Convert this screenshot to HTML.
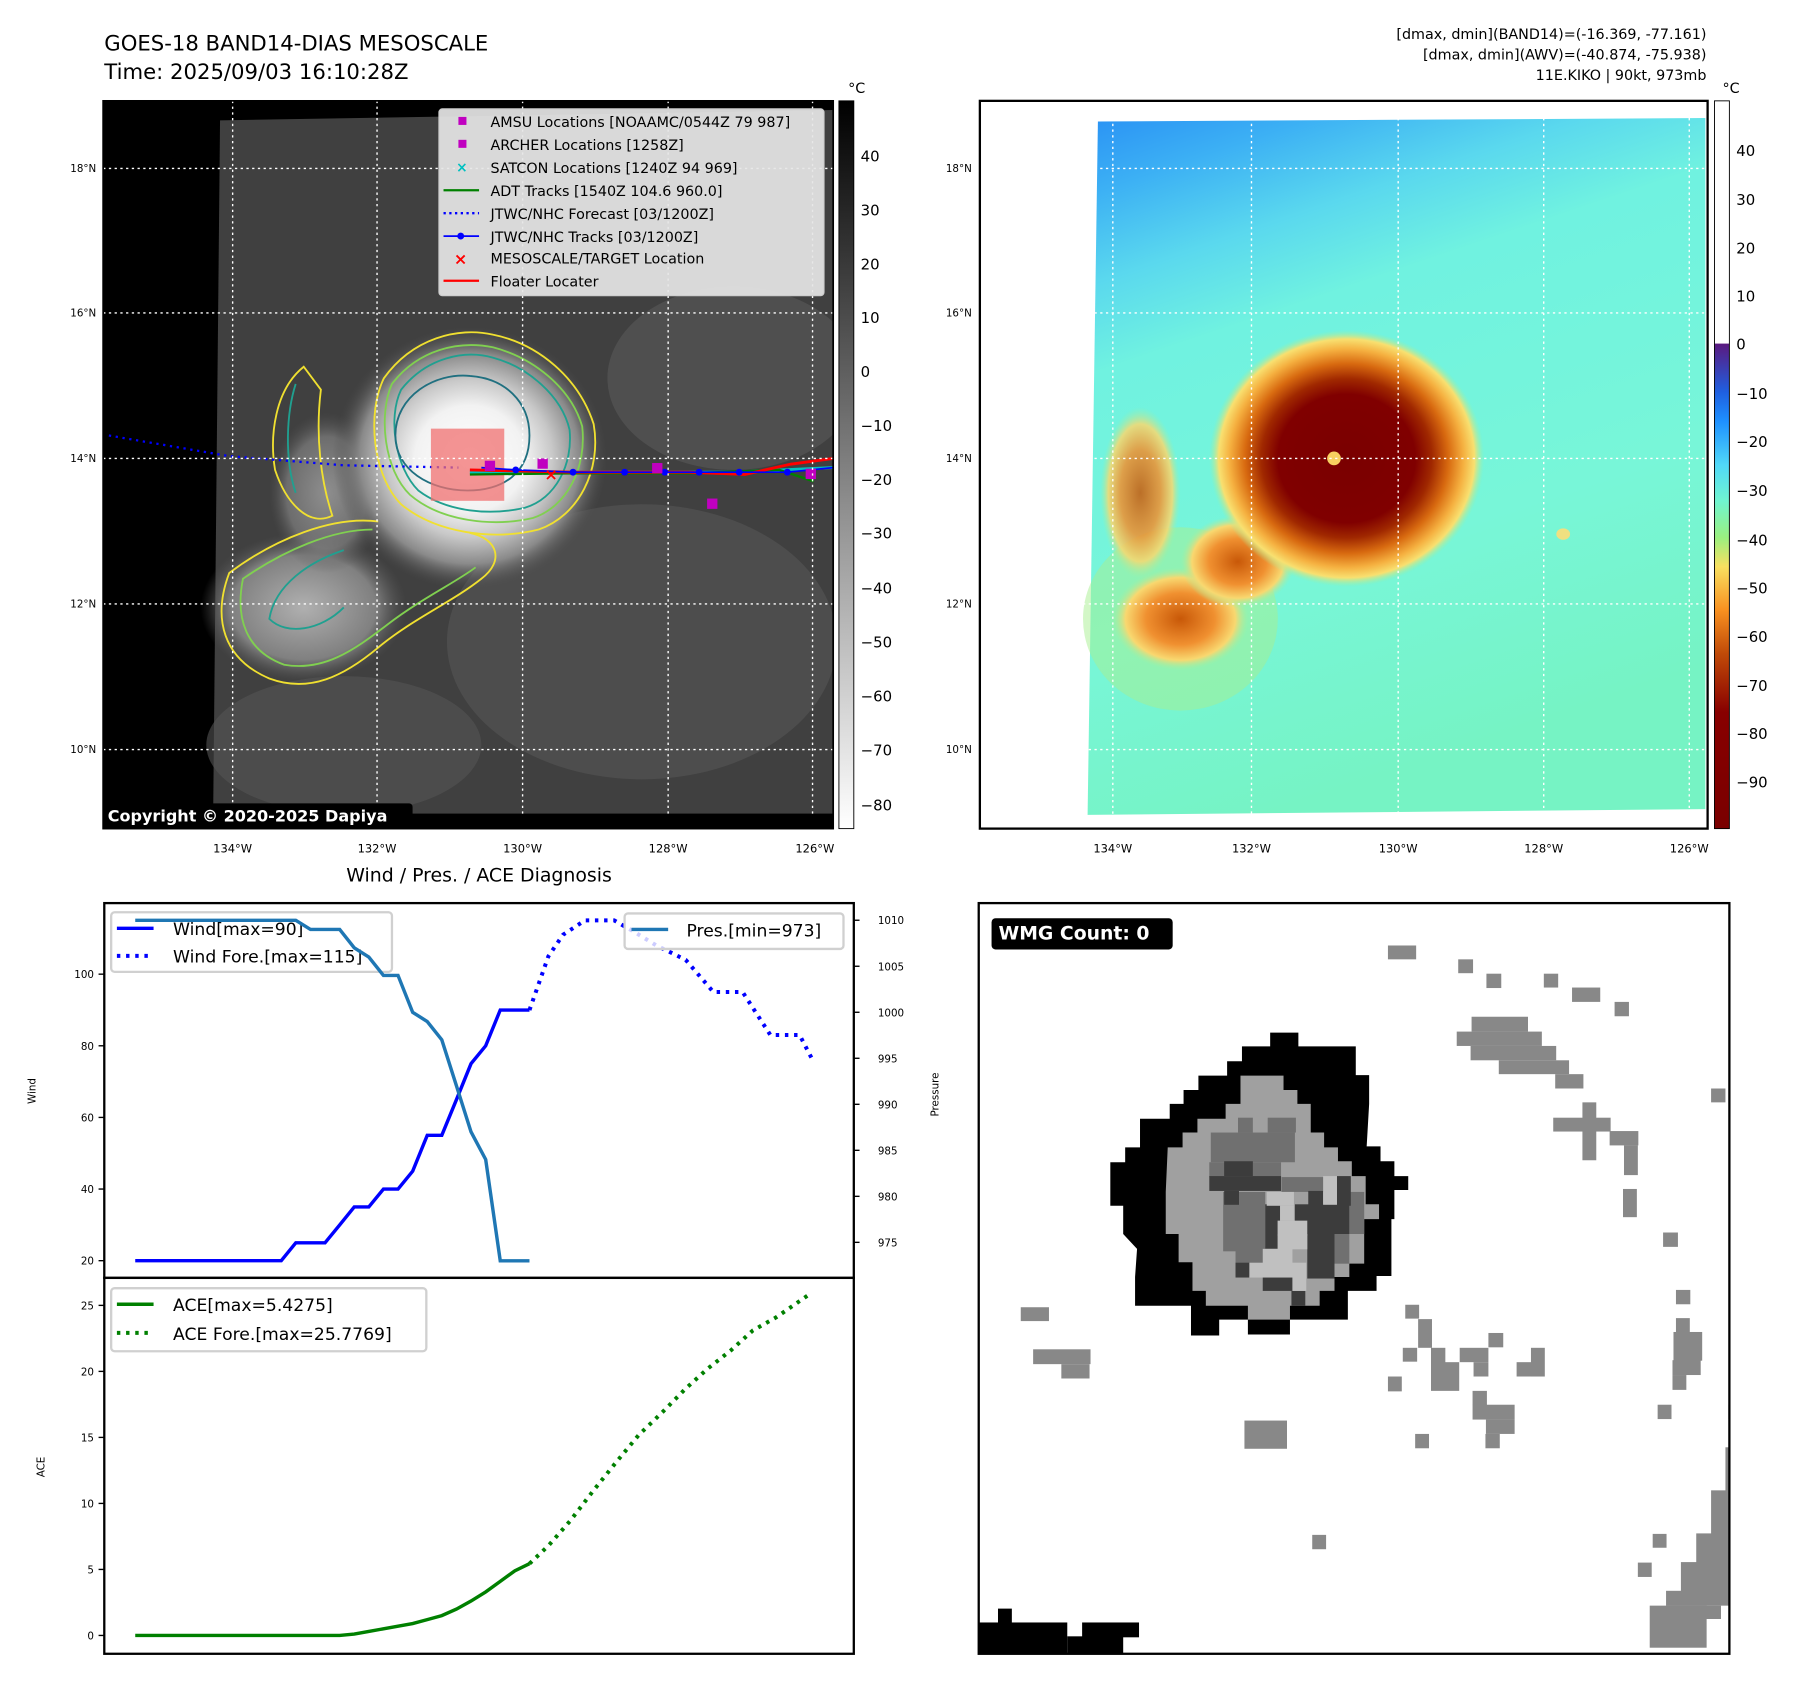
<!DOCTYPE html>
<html><head><meta charset="utf-8"><style>
html,body{margin:0;padding:0;background:#fff;}
svg{display:block;font-family:"DejaVu Sans","Liberation Sans",sans-serif;}
</style></head><body>
<svg id="root" width="1797" height="1690" viewBox="0 0 1568 1474.6" preserveAspectRatio="none">
<defs>
<radialGradient id="stormGray" cx="0.5" cy="0.5" r="0.5">
<stop offset="0" stop-color="#fff"/><stop offset="0.4" stop-color="#f2f2f2"/><stop offset="0.6" stop-color="#c8c8c8"/><stop offset="0.8" stop-color="#8a8a8a"/><stop offset="1" stop-color="#4a4a4a" stop-opacity="0"/>
</radialGradient>
<radialGradient id="bandGray" cx="0.5" cy="0.5" r="0.5">
<stop offset="0" stop-color="#b0b0b0"/><stop offset="0.7" stop-color="#808080"/><stop offset="1" stop-color="#555" stop-opacity="0"/>
</radialGradient>
<linearGradient id="cbGray" x1="0" y1="0" x2="0" y2="1"><stop offset="0" stop-color="#000"/><stop offset="1" stop-color="#fff"/></linearGradient>
<linearGradient id="cbJet" x1="0" y1="0" x2="0" y2="1">
<stop offset="0" stop-color="#fff"/><stop offset="0.333" stop-color="#fff"/><stop offset="0.334" stop-color="#5a1a80"/><stop offset="0.4" stop-color="#1f5fe0"/><stop offset="0.44" stop-color="#1e90ff"/><stop offset="0.5" stop-color="#50d8f8"/><stop offset="0.55" stop-color="#70f5d0"/><stop offset="0.6" stop-color="#9af080"/><stop offset="0.64" stop-color="#f8e060"/><stop offset="0.7" stop-color="#f89020"/><stop offset="0.76" stop-color="#c04a08"/><stop offset="0.84" stop-color="#880000"/><stop offset="1" stop-color="#7a0000"/>
</linearGradient>
<linearGradient id="skyGrad" x1="0" y1="0" x2="0.3" y2="1">
<stop offset="0" stop-color="#2a92f4"/><stop offset="0.1" stop-color="#3cb0f4"/><stop offset="0.22" stop-color="#5ad8ee"/><stop offset="0.34" stop-color="#70f2e0"/><stop offset="0.7" stop-color="#78f6d8"/><stop offset="1" stop-color="#76f3c4"/>
</linearGradient>
<radialGradient id="stormColor" cx="0.5" cy="0.5" r="0.5">
<stop offset="0" stop-color="#7a0000"/><stop offset="0.5" stop-color="#800000"/><stop offset="0.62" stop-color="#a02800"/><stop offset="0.74" stop-color="#d86a10"/><stop offset="0.85" stop-color="#f5b040"/><stop offset="0.93" stop-color="#f8e070"/><stop offset="1" stop-color="#9cf0a0" stop-opacity="0"/>
</radialGradient>
<radialGradient id="bandColor" cx="0.5" cy="0.5" r="0.5">
<stop offset="0" stop-color="#c85808"/><stop offset="0.5" stop-color="#f09030"/><stop offset="0.8" stop-color="#f8d870"/><stop offset="1" stop-color="#a0f0a0" stop-opacity="0"/>
</radialGradient>
<clipPath id="leftClip"><rect x="90" y="88" width="637" height="635"/></clipPath>
<clipPath id="rightClip"><rect x="855" y="88" width="635" height="635"/></clipPath>
</defs>

<text x="91" y="44" font-size="18.5">GOES-18 BAND14-DIAS MESOSCALE</text>
<text x="91" y="69" font-size="18.5">Time: 2025/09/03 16:10:28Z</text>
<g font-size="12.5" text-anchor="end">
<text x="1489" y="34">[dmax, dmin](BAND14)=(-16.369, -77.161)</text>
<text x="1489" y="52">[dmax, dmin](AWV)=(-40.874, -75.938)</text>
<text x="1489" y="70">11E.KIKO | 90kt, 973mb</text>
</g>

<!-- LEFT MAP -->
<g clip-path="url(#leftClip)">
<rect x="90" y="88" width="637" height="635" fill="#000"/>
<polygon points="192,105 727,96 727,710 186,710" fill="#404040"/>
<ellipse cx="640" cy="330" rx="110" ry="80" fill="#5a5a5a" opacity="0.6"/>
<ellipse cx="560" cy="560" rx="170" ry="120" fill="#575757" opacity="0.6"/>
<ellipse cx="300" cy="650" rx="120" ry="60" fill="#555" opacity="0.6"/>
<ellipse cx="265" cy="530" rx="90" ry="65" fill="url(#bandGray)"/>
<ellipse cx="285" cy="430" rx="50" ry="70" fill="url(#bandGray)" opacity="0.7"/>
<ellipse cx="410" cy="400" rx="120" ry="115" fill="url(#stormGray)"/>
<g fill="none" stroke-width="1.6">
<path d="M335,330 C360,295 400,285 430,292 C470,300 505,330 518,370 C525,410 505,450 470,462 C430,472 380,465 350,440 C325,415 320,360 335,330 Z" stroke="#f0e030"/>
<path d="M342,335 C365,305 400,297 430,303 C465,312 498,338 508,372 C512,408 495,442 465,452 C430,460 385,455 358,432 C335,410 330,362 342,335 Z" stroke="#80d050"/>
<path d="M350,340 C372,312 405,305 430,312 C460,320 490,345 497,375 C500,405 485,435 458,443 C428,450 390,447 365,428 C345,408 338,365 350,340 Z" stroke="#20a090"/>
<path d="M345,380 C345,345 380,325 410,328 C440,330 462,350 462,380 C462,412 440,428 408,428 C375,428 345,410 345,380 Z" stroke="#207080"/>
<path d="M330,455 C290,450 240,470 200,500 C185,540 195,575 235,592 C270,605 300,590 330,565 C360,540 395,525 420,505 C440,490 435,470 410,465" stroke="#f0e030"/>
<path d="M325,462 C290,462 248,480 212,505 C205,540 215,568 248,580 C282,586 308,568 338,545 C368,522 398,508 415,495" stroke="#80d050"/>
<path d="M300,480 C270,490 240,510 235,540 C250,555 280,550 300,530" stroke="#20a090"/>
<path d="M265,320 C240,340 235,380 240,410 C250,440 270,460 290,450 C280,420 275,380 280,340 Z" stroke="#f0e030"/>
<path d="M258,335 C250,360 248,400 258,430" stroke="#20a090"/>
</g>
<polyline points="95,380 200,398 300,406 400,408" fill="none" stroke="#0000ff" stroke-width="2" stroke-dasharray="2 4"/>
<rect x="376" y="374" width="64" height="63" fill="#f07070" opacity="0.75"/>
<polyline points="410,412 480,412 560,412 640,412 727,408" fill="none" stroke="#00c0c0" stroke-width="2.5"/>
<polyline points="410,414 500,413 600,413 680,410 710,420" fill="none" stroke="#008000" stroke-width="2"/>
<polyline points="410,410 500,412 600,412 650,414 690,405 727,400" fill="none" stroke="#ff0000" stroke-width="2.5"/>
<polyline points="420,408 450,410 500,412 545,412 580,412 610,412 645,412 687,412 727,408" fill="none" stroke="#0000ff" stroke-width="1.5"/>
<g fill="#0000ff"><circle cx="450" cy="410" r="3"/><circle cx="500" cy="412" r="3"/><circle cx="545" cy="412" r="3"/><circle cx="580" cy="412" r="3"/><circle cx="610" cy="412" r="3"/><circle cx="645" cy="412" r="3"/><circle cx="687" cy="412" r="3"/></g>
<g fill="#c000c0"><rect x="469" y="400" width="9" height="9"/><rect x="569" y="404" width="9" height="9"/><rect x="617" y="435" width="9" height="9"/><rect x="703" y="409" width="9" height="9"/><rect x="423" y="402" width="9" height="9"/></g>
<text x="475" y="419" fill="#ff0000" font-size="14" font-weight="bold">×</text>
<g stroke="#fff" stroke-width="1.2" stroke-dasharray="2 3">
<line x1="203" y1="88" x2="203" y2="723"/><line x1="329" y1="88" x2="329" y2="723"/><line x1="456" y1="88" x2="456" y2="723"/><line x1="583" y1="88" x2="583" y2="723"/><line x1="709" y1="88" x2="709" y2="723"/>
<line x1="90" y1="147" x2="727" y2="147"/><line x1="90" y1="273" x2="727" y2="273"/><line x1="90" y1="400" x2="727" y2="400"/><line x1="90" y1="527" x2="727" y2="527"/><line x1="90" y1="654" x2="727" y2="654"/>
</g>
<rect x="90" y="710" width="637" height="13" fill="#000"/>
</g>
<rect x="90" y="701" width="270" height="22" rx="3" fill="#000"/>
<text x="94" y="717" font-size="14" font-weight="bold" fill="#fff">Copyright © 2020-2025 Dapiya</text>
<g>
<rect x="383" y="95" width="336" height="163" rx="3" fill="#e6e6e6" fill-opacity="0.92" stroke="#ccc"/>
<g font-size="12.5">
<rect x="400" y="102" width="7" height="7" fill="#c000c0"/><text x="428" y="111">AMSU Locations [NOAAMC/0544Z 79 987]</text>
<rect x="400" y="122" width="7" height="7" fill="#c000c0"/><text x="428" y="131">ARCHER Locations [1258Z]</text>
<text x="398" y="150" fill="#00c0c0" font-size="12" font-weight="bold">×</text><text x="428" y="151">SATCON Locations [1240Z 94 969]</text>
<line x1="387" y1="166" x2="418" y2="166" stroke="#008000" stroke-width="2"/><text x="428" y="171">ADT Tracks [1540Z 104.6 960.0]</text>
<line x1="387" y1="186" x2="418" y2="186" stroke="#0000ff" stroke-width="2" stroke-dasharray="2 3"/><text x="428" y="191">JTWC/NHC Forecast [03/1200Z]</text>
<line x1="387" y1="206" x2="418" y2="206" stroke="#0000ff" stroke-width="1.5"/><circle cx="402" cy="206" r="3" fill="#0000ff"/><text x="428" y="211">JTWC/NHC Tracks [03/1200Z]</text>
<text x="396" y="231" fill="#ff0000" font-size="14" font-weight="bold">×</text><text x="428" y="230">MESOSCALE/TARGET Location</text>
<line x1="387" y1="245" x2="418" y2="245" stroke="#ff0000" stroke-width="2"/><text x="428" y="250">Floater Locater</text>
</g></g>
<rect x="90" y="88" width="637" height="635" fill="none" stroke="#000" stroke-width="1.5"/>
<g font-size="9" text-anchor="end">
<text x="84" y="150">18°N</text><text x="84" y="276">16°N</text><text x="84" y="403">14°N</text><text x="84" y="530">12°N</text><text x="84" y="657">10°N</text></g>
<g font-size="10" text-anchor="middle">
<text x="203" y="744">134°W</text><text x="329" y="744">132°W</text><text x="456" y="744">130°W</text><text x="583" y="744">128°W</text><text x="711" y="744">126°W</text></g>
<rect x="732" y="88" width="13" height="635" fill="url(#cbGray)" stroke="#000" stroke-width="0.8"/>
<text x="740" y="81" font-size="12.5">°C</text>
<g font-size="13">
<text x="751" y="141">40</text><text x="751" y="188">30</text><text x="751" y="235">20</text><text x="751" y="282">10</text><text x="751" y="329">0</text><text x="751" y="376">−10</text><text x="751" y="423">−20</text><text x="751" y="470">−30</text><text x="751" y="518">−40</text><text x="751" y="565">−50</text><text x="751" y="612">−60</text><text x="751" y="659">−70</text><text x="751" y="707">−80</text></g>

<!-- RIGHT MAP -->
<g clip-path="url(#rightClip)">
<rect x="855" y="88" width="635" height="635" fill="#fff"/>
<polygon points="958,106 1488,103 1488,706 949,711" fill="url(#skyGrad)"/>
<ellipse cx="1030" cy="540" rx="85" ry="80" fill="#a8f090" opacity="0.5"/>
<ellipse cx="1030" cy="540" rx="60" ry="45" fill="url(#bandColor)"/>
<ellipse cx="995" cy="430" rx="35" ry="75" fill="url(#bandColor)" opacity="0.85"/>
<ellipse cx="1080" cy="490" rx="50" ry="40" fill="url(#bandColor)"/>
<ellipse cx="1175" cy="400" rx="120" ry="112" fill="url(#stormColor)"/>
<ellipse cx="1164" cy="400" rx="6" ry="6" fill="#f8d060"/>
<ellipse cx="1364" cy="466" rx="6" ry="5" fill="#f0e080"/>
<g stroke="#fff" stroke-width="1.2" stroke-dasharray="2 3">
<line x1="971" y1="88" x2="971" y2="723"/><line x1="1092" y1="88" x2="1092" y2="723"/><line x1="1220" y1="88" x2="1220" y2="723"/><line x1="1347" y1="88" x2="1347" y2="723"/><line x1="1474" y1="88" x2="1474" y2="723"/>
<line x1="855" y1="147" x2="1490" y2="147"/><line x1="855" y1="273" x2="1490" y2="273"/><line x1="855" y1="400" x2="1490" y2="400"/><line x1="855" y1="527" x2="1490" y2="527"/><line x1="855" y1="654" x2="1490" y2="654"/>
</g></g>
<rect x="855" y="88" width="635" height="635" fill="none" stroke="#000" stroke-width="2"/>
<g font-size="9" text-anchor="end">
<text x="848" y="150">18°N</text><text x="848" y="276">16°N</text><text x="848" y="403">14°N</text><text x="848" y="530">12°N</text><text x="848" y="657">10°N</text></g>
<g font-size="10" text-anchor="middle">
<text x="971" y="744">134°W</text><text x="1092" y="744">132°W</text><text x="1220" y="744">130°W</text><text x="1347" y="744">128°W</text><text x="1474" y="744">126°W</text></g>
<rect x="1496" y="88" width="13" height="635" fill="url(#cbJet)" stroke="#000" stroke-width="0.8"/>
<text x="1503" y="81" font-size="12.5">°C</text>
<g font-size="13">
<text x="1515" y="136">40</text><text x="1515" y="179">30</text><text x="1515" y="221">20</text><text x="1515" y="263">10</text><text x="1515" y="305">0</text><text x="1515" y="348">−10</text><text x="1515" y="390">−20</text><text x="1515" y="433">−30</text><text x="1515" y="476">−40</text><text x="1515" y="518">−50</text><text x="1515" y="560">−60</text><text x="1515" y="603">−70</text><text x="1515" y="645">−80</text><text x="1515" y="687">−90</text></g>

<!-- DIAGNOSIS CHART -->
<text x="418" y="769" font-size="16.5" text-anchor="middle">Wind / Pres. / ACE Diagnosis</text>
<g>
<rect x="97" y="796" width="245" height="52" rx="3" fill="#fff" fill-opacity="0.8" stroke="#d0d0d0" stroke-width="2"/>
<line x1="102" y1="810" x2="134" y2="810" stroke="#0000ff" stroke-width="3"/>
<text x="151" y="816" font-size="15">Wind[max=90]</text>
<line x1="102" y1="834" x2="134" y2="834" stroke="#0000ff" stroke-width="3.5" stroke-dasharray="3 5"/>
<text x="151" y="840" font-size="15">Wind Fore.[max=115]</text></g>
<g id="chart"></g>
<rect x="91" y="788" width="654" height="327" fill="none" stroke="#000" stroke-width="2"/>
<rect x="91" y="1115" width="654" height="328" fill="none" stroke="#000" stroke-width="2"/>
<text transform="translate(31,952) rotate(-90)" font-size="9" text-anchor="middle">Wind</text>
<text transform="translate(819,955) rotate(-90)" font-size="9" text-anchor="middle">Pressure</text>
<text transform="translate(39,1280) rotate(-90)" font-size="9" text-anchor="middle">ACE</text>
<g>
<rect x="545" y="797" width="191" height="31" rx="3" fill="#fff" fill-opacity="0.8" stroke="#d0d0d0" stroke-width="2"/>
<line x1="551" y1="811" x2="583" y2="811" stroke="#1f77b4" stroke-width="3"/>
<text x="599" y="817" font-size="15">Pres.[min=973]</text></g>
<g>
<rect x="97" y="1124" width="275" height="55" rx="3" fill="#fff" stroke="#d0d0d0" stroke-width="2"/>
<line x1="102" y1="1138" x2="134" y2="1138" stroke="#008000" stroke-width="3"/>
<text x="151" y="1144" font-size="15">ACE[max=5.4275]</text>
<line x1="102" y1="1163" x2="134" y2="1163" stroke="#008000" stroke-width="3.5" stroke-dasharray="3 5"/>
<text x="151" y="1169" font-size="15">ACE Fore.[max=25.7769]</text></g>

<!-- WMG PANEL -->
<g>
<rect x="854" y="788" width="655" height="655" fill="#fff"/>
<svg x="854" y="788" width="655" height="655" viewBox="854 788 655 655" overflow="hidden">
<g transform="translate(855.7,785.25) scale(0.4318)">
<g fill="#888">
<rect x="823" y="92" width="57" height="28"/><rect x="965" y="120" width="30" height="28"/><rect x="1022" y="149" width="30" height="29"/><rect x="1138" y="149" width="29" height="28"/><rect x="1195" y="177" width="57" height="29"/><rect x="1281" y="206" width="29" height="29"/>
<rect x="992" y="236" width="114" height="30"/><rect x="962" y="266" width="172" height="29"/><rect x="990" y="295" width="173" height="29"/><rect x="1047" y="324" width="142" height="28"/><rect x="1161" y="352" width="57" height="29"/>
<rect x="1476" y="381" width="29" height="28"/>
<rect x="1216" y="409" width="28" height="117"/><rect x="1157" y="440" width="116" height="28"/><rect x="1271" y="467" width="58" height="29"/><rect x="1300" y="496" width="28" height="60"/>
<rect x="1298" y="584" width="28" height="57"/><rect x="1379" y="672" width="30" height="29"/><rect x="1405" y="788" width="29" height="29"/><rect x="1405" y="845" width="28" height="30"/><rect x="1400" y="873" width="58" height="58"/><rect x="1398" y="930" width="57" height="30"/><rect x="1398" y="960" width="28" height="30"/><rect x="1517" y="845" width="10" height="86"/>
<rect x="858" y="818" width="28" height="28"/><rect x="884" y="847" width="28" height="58"/><rect x="853" y="905" width="29" height="28"/><rect x="910" y="905" width="29" height="30"/><rect x="910" y="934" width="57" height="58"/><rect x="968" y="905" width="58" height="29"/><rect x="996" y="934" width="30" height="29"/><rect x="1026" y="875" width="30" height="29"/><rect x="1112" y="905" width="28" height="58"/><rect x="1083" y="934" width="56" height="29"/>
<rect x="823" y="963" width="28" height="30"/><rect x="994" y="992" width="29" height="29"/><rect x="994" y="1020" width="85" height="30"/><rect x="1021" y="1050" width="58" height="29"/><rect x="1020" y="1079" width="29" height="29"/><rect x="878" y="1079" width="28" height="29"/>
<rect x="81" y="823" width="57" height="28"/><rect x="106" y="908" width="116" height="30"/><rect x="163" y="938" width="57" height="29"/>
<rect x="533" y="1052" width="86" height="57"/><rect x="670" y="1283" width="28" height="29"/>
<rect x="1368" y="1020" width="28" height="29"/><rect x="1511" y="1020" width="16" height="29"/>
<rect x="1358" y="1281" width="28" height="28"/><rect x="1328" y="1339" width="28" height="29"/>
<rect x="1505" y="1106" width="22" height="90"/><rect x="1476" y="1193" width="51" height="90"/><rect x="1446" y="1280" width="81" height="60"/><rect x="1415" y="1338" width="112" height="60"/><rect x="1385" y="1396" width="142" height="30"/><rect x="1385" y="1426" width="111" height="27"/><rect x="1352" y="1426" width="115" height="85"/>
</g>
<g fill="#000">
<rect x="-10" y="1460" width="185" height="72"/><rect x="35" y="1432" width="28" height="30"/><rect x="205" y="1460" width="115" height="30"/><rect x="175" y="1488" width="113" height="44"/></g>
<polygon fill="#000" points="585,268 642,268 642,296 758,296 758,354 785,354 785,412 780,498 808,498 808,528 836,528 836,558 864,558 864,586 836,586 836,645 830,645 830,760 800,760 800,790 742,790 742,848 625,848 625,878 540,878 540,848 482,848 482,880 425,880 425,820 312,820 312,762 316,705 288,675 288,618 262,618 262,530 292,530 292,500 322,500 322,442 382,442 382,412 410,412 410,384 440,384 440,355 498,355 498,326 528,326 528,296 585,296"/>
<polygon fill="#a0a0a0" points="525,355 612,355 612,384 640,384 640,412 667,412 667,470 694,470 694,500 722,500 722,528 750,528 750,558 778,558 778,615 805,615 805,645 775,645 775,735 745,735 745,762 715,762 715,790 685,790 685,820 625,820 625,848 540,848 540,820 455,820 455,790 428,790 428,732 400,732 400,675 374,675 374,590 378,500 408,500 408,470 438,470 438,442 495,442 495,412 525,412"/>
<g fill="#707070"><rect x="465" y="470" width="170" height="60"/><rect x="462" y="530" width="145" height="30"/><rect x="490" y="590" width="85" height="120"/><rect x="515" y="700" width="60" height="60"/><rect x="608" y="560" width="85" height="30"/><rect x="745" y="590" width="30" height="85"/><rect x="690" y="675" width="55" height="60"/><rect x="520" y="440" width="30" height="30"/><rect x="580" y="440" width="57" height="30"/></g>
<g fill="#3c3c3c"><rect x="492" y="528" width="58" height="30"/><rect x="462" y="558" width="145" height="30"/><rect x="492" y="588" width="30" height="28"/><rect x="575" y="615" width="30" height="90"/><rect x="635" y="615" width="110" height="60"/><rect x="660" y="675" width="55" height="90"/><rect x="720" y="558" width="28" height="60"/><rect x="570" y="762" width="60" height="28"/><rect x="515" y="733" width="28" height="30"/><rect x="628" y="790" width="28" height="30"/><rect x="662" y="588" width="30" height="28"/></g>
<g fill="#c0c0c0"><rect x="692" y="558" width="28" height="58"/><rect x="578" y="590" width="55" height="28"/><rect x="605" y="618" width="28" height="30"/><rect x="600" y="648" width="60" height="30"/><rect x="600" y="676" width="60" height="30"/><rect x="570" y="705" width="60" height="30"/><rect x="543" y="733" width="115" height="30"/><rect x="630" y="762" width="28" height="28"/></g>
<rect x="22" y="37" width="366" height="63" rx="8" fill="#000"/>
<text x="36" y="80" font-size="38" font-weight="bold" fill="#fff">WMG Count: 0</text>
</g>
</svg>
<rect x="854" y="788" width="655" height="655" fill="none" stroke="#000" stroke-width="2"/>
</g>
</svg>
<script>
var obsIdx = [0,1,2,3,4,5,6,7,8,9,10,11,12,13,14,15,16,17,18,19,20,21,22,23,24,25,26,27];
var windObs = [20,20,20,20,20,20,20,20,20,20,20,25,25,25,30,35,35,40,40,45,55,55,65,75,80,90,90,90];
var presObs = [1010,1010,1010,1010,1010,1010,1010,1010,1010,1010,1010,1010,1009,1009,1009,1007,1006,1004,1004,1000,999,997,992,987,984,973,973,973];
var windForeIdx = [27,28.3,29.3,30.8,32.8,34.1,35.7,37.7,39.6,41.6,43.5,45.5,46.4];
var windFore = [90,105,111,115,115,112,108,104,95,95,83,83,76];
var aceObs = [0,0,0,0,0,0,0,0,0,0,0,0,0,0,0,0.1,0.3,0.5,0.7,0.9,1.2,1.5,2.0,2.6,3.3,4.1,4.9,5.43];
var aceForeIdx = [27,28.3,29.8,31.4,33,34.5,36.1,37.7,39.2,40.8,42.3,43.9,46.1];
var aceFore = [5.43,6.8,8.7,11,13.2,15.2,16.9,18.7,20.2,21.6,23.1,24.1,25.78];
var windTicks = [20,40,60,80,100];
var presTicks = [975,980,985,990,995,1000,1005,1010];
var aceTicks = [0,5,10,15,20,25];

var NS = 'http://www.w3.org/2000/svg';
var chart = document.getElementById('chart');
function xIdx(i){ return 118 + i * 12.74; }
function yWind(w){ return 1100 - (w - 20) * 3.125; }
function yPres(p){ return 1084 - (p - 975) * 8.03; }
function yAce(a){ return 1427 - a * 11.52; }
function mk(tag, attrs){ var e = document.createElementNS(NS, tag); for (var k in attrs) e.setAttribute(k, attrs[k]); chart.appendChild(e); return e; }
function pts(xs, ys, fy){ var s = []; for (var i = 0; i < xs.length; i++) s.push(xIdx(xs[i]).toFixed(1) + ',' + fy(ys[i]).toFixed(1)); return s.join(' '); }

var e;
e = mk('polyline', {points: pts(windForeIdx, windFore, yWind), fill: 'none', stroke: '#0000ff', 'stroke-width': 3.5, 'stroke-dasharray': '3 5'});


e = mk('polyline', {points: pts(obsIdx, windObs, yWind), fill: 'none', stroke: '#0000ff', 'stroke-width': 3});


e = mk('polyline', {points: pts(obsIdx, presObs, yPres), fill: 'none', stroke: '#1f77b4', 'stroke-width': 3});


e = mk('polyline', {points: pts(obsIdx, aceObs, yAce), fill: 'none', stroke: '#008000', 'stroke-width': 3});


e = mk('polyline', {points: pts(aceForeIdx, aceFore, yAce), fill: 'none', stroke: '#008000', 'stroke-width': 3.5, 'stroke-dasharray': '3 5'});



windTicks.forEach(function(t){
  var y = yWind(t);
  var l = mk('line', {x1: 86, x2: 91, y1: y, y2: y, stroke: '#000', 'stroke-width': 1.2});
  
  
  var tx = mk('text', {x: 82, y: y + 3.5, 'font-size': 9, 'text-anchor': 'end'});
  tx.textContent = t;
  
  
});
presTicks.forEach(function(t){
  var y = yPres(t);
  var l = mk('line', {x1: 745, x2: 750, y1: y, y2: y, stroke: '#000', 'stroke-width': 1.2});
  
  
  var tx = mk('text', {x: 766, y: y + 3.5, 'font-size': 9});
  tx.textContent = t;
  
  
});
aceTicks.forEach(function(t){
  var y = yAce(t);
  var l = mk('line', {x1: 86, x2: 91, y1: y, y2: y, stroke: '#000', 'stroke-width': 1.2});
  
  
  var tx = mk('text', {x: 82, y: y + 3.5, 'font-size': 9, 'text-anchor': 'end'});
  tx.textContent = t;
  
  
});
</script>
</body></html>
